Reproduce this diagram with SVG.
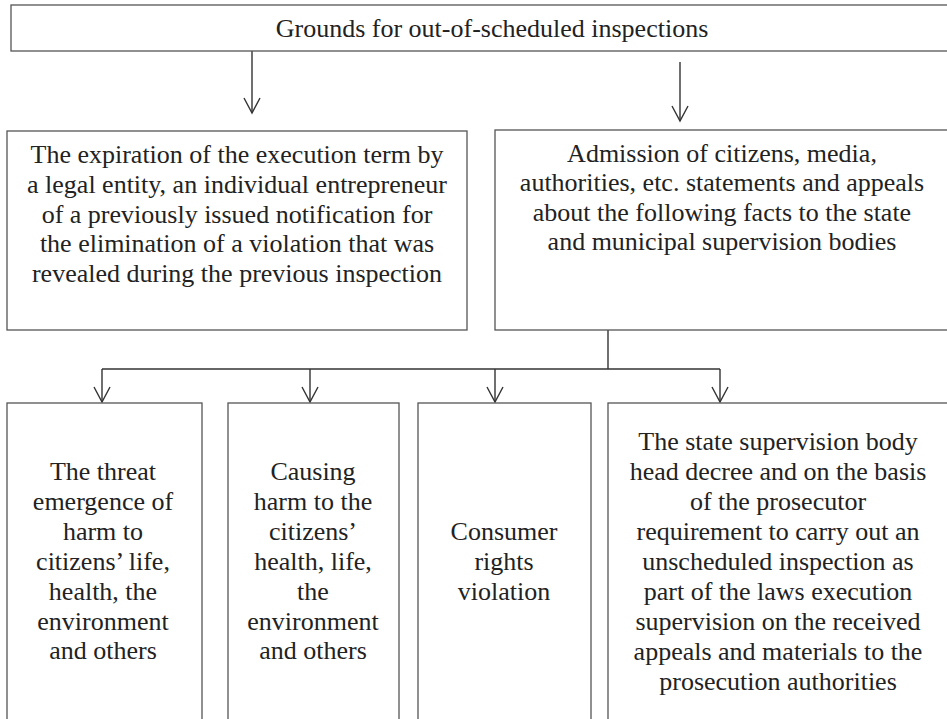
<svg xmlns="http://www.w3.org/2000/svg" width="947" height="719" viewBox="0 0 947 719">
<style>
.box{fill:#fff;stroke:#555;stroke-width:1.3}
.t{font-family:"Liberation Serif","Times New Roman",serif;font-size:26px;fill:#222;text-anchor:middle}
.c{fill:none;stroke:#333;stroke-width:1.4}
</style>
<defs>
<marker id="arr" markerUnits="userSpaceOnUse" markerWidth="20" markerHeight="20" refX="16" refY="8" orient="auto" overflow="visible">
<path d="M1,0 L16,8 L1,16" fill="none" stroke="#333" stroke-width="1.4"/>
</marker>
</defs>
<rect width="947" height="719" fill="#fff"/>
<g id="connectors">
<line class="c" x1="252" y1="51" x2="252" y2="113" marker-end="url(#arr)"/>
<line class="c" x1="680" y1="62" x2="680" y2="121" marker-end="url(#arr)"/>
<line class="c" x1="608" y1="330" x2="608" y2="369"/>
<line class="c" x1="102" y1="369" x2="720" y2="369"/>
<line class="c" x1="102" y1="369" x2="102" y2="402" marker-end="url(#arr)"/>
<line class="c" x1="310" y1="369" x2="310" y2="402" marker-end="url(#arr)"/>
<line class="c" x1="495" y1="369" x2="495" y2="402" marker-end="url(#arr)"/>
<line class="c" x1="720" y1="369" x2="720" y2="402" marker-end="url(#arr)"/>
</g>
<g id="root">
<rect class="box" x="11" y="5" width="945" height="46"/>
<text class="t" x="492" y="37" font-size="25">Grounds for out-of-scheduled inspections</text>
</g>
<g id="expiration">
<rect class="box" x="7" y="131" width="460" height="199"/>
<text class="t" x="237"><tspan x="237" y="163">The expiration of the execution term by</tspan><tspan x="237" y="193">a legal entity, an individual entrepreneur</tspan><tspan x="237" y="223">of a previously issued notification for</tspan><tspan x="237" y="252">the elimination of a violation that was</tspan><tspan x="237" y="282">revealed during the previous inspection</tspan></text>
</g>
<g id="admission">
<rect class="box" x="495" y="130" width="460" height="200"/>
<text class="t" x="722"><tspan x="722" y="162">Admission of citizens, media,</tspan><tspan x="722" y="191">authorities, etc. statements and appeals</tspan><tspan x="722" y="221">about the following facts to the state</tspan><tspan x="722" y="250">and municipal supervision bodies</tspan></text>
</g>
<g id="threat">
<rect class="box" x="7" y="403" width="195" height="330"/>
<text class="t" x="103"><tspan x="103" y="480">The threat</tspan><tspan x="103" y="510">emergence of</tspan><tspan x="103" y="540">harm to</tspan><tspan x="103" y="570">citizens’ life,</tspan><tspan x="103" y="600">health, the</tspan><tspan x="103" y="630">environment</tspan><tspan x="103" y="659">and others</tspan></text>
</g>
<g id="causing">
<rect class="box" x="228" y="403" width="171" height="330"/>
<text class="t" x="313"><tspan x="313" y="480">Causing</tspan><tspan x="313" y="510">harm to the</tspan><tspan x="313" y="540">citizens’</tspan><tspan x="313" y="570">health, life,</tspan><tspan x="313" y="600">the</tspan><tspan x="313" y="630">environment</tspan><tspan x="313" y="659">and others</tspan></text>
</g>
<g id="consumer">
<rect class="box" x="418" y="403" width="173" height="330"/>
<text class="t" x="504"><tspan x="504" y="540">Consumer</tspan><tspan x="504" y="570">rights</tspan><tspan x="504" y="600">violation</tspan></text>
</g>
<g id="decree">
<rect class="box" x="608" y="403" width="350" height="330"/>
<text class="t" x="778"><tspan x="778" y="450">The state supervision body</tspan><tspan x="778" y="480">head decree and on the basis</tspan><tspan x="778" y="510">of the prosecutor</tspan><tspan x="778" y="540">requirement to carry out an</tspan><tspan x="778" y="570">unscheduled inspection as</tspan><tspan x="778" y="600">part of the laws execution</tspan><tspan x="778" y="630">supervision on the received</tspan><tspan x="778" y="660">appeals and materials to the</tspan><tspan x="778" y="690">prosecution authorities</tspan></text>
</g>
</svg>
